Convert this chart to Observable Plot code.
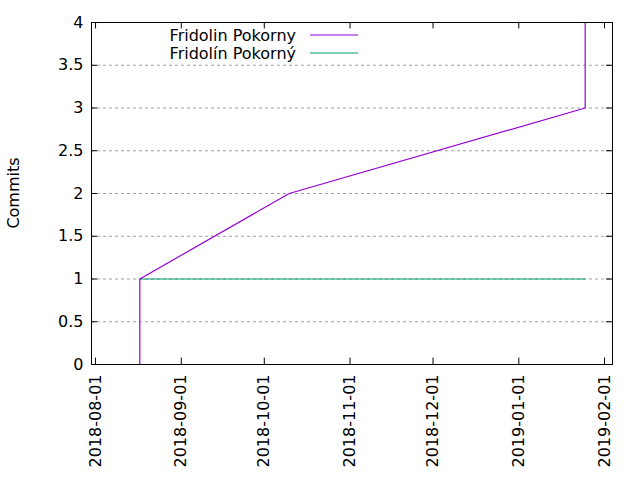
<!DOCTYPE html>
<html><head>
<meta charset="utf-8">
<script src="https://cdn.jsdelivr.net/npm/d3@7"></script>
<script src="https://cdn.jsdelivr.net/npm/@observablehq/plot@0.6"></script>
<style>body{margin:0;background:#fff}</style>
</head><body><div id="c"></div>
<script>
const seriesNames = ["Fridolin Pokorny", "Fridolín Pokorný"];
const colors = ["#9400d3", "#009e73"];
const s1Dates = ["2018-08-17","2018-08-17","2018-10-10","2019-01-25","2019-01-25"];
const s1Values = [0, 1, 2, 3, 4];
const s2Dates = ["2018-08-17","2019-01-25"];
const s2Values = [1, 1];
const xTicks = ["2018-08-01","2018-09-01","2018-10-01","2018-11-01","2018-12-01","2019-01-01","2019-02-01"];
const yTicks = [0,0.5,1,1.5,2,2.5,3,3.5,4];

const P = d => new Date(d + "T00:00:00Z");
const s1 = s1Dates.map((d,i)=>({x:P(d), y:s1Values[i]}));
const s2 = s2Dates.map((d,i)=>({x:P(d), y:s2Values[i]}));
const xt = xTicks.map(P);
const x0 = new Date(Date.UTC(2018,6,30,13)), x1 = new Date(Date.UTC(2019,1,3,21));
const tickDays = 2.2*86400000;
const font = "DejaVu Sans, sans-serif";

const chart = Plot.plot({
  width: 640, height: 480,
  marginLeft: 91, marginRight: 28, marginTop: 22, marginBottom: 116,
  style: {fontFamily: font, fontSize: "16px", color: "#000", background: "#fff"},
  x: {type: "utc", domain: [x0, x1]},
  y: {domain: [0, 4]},
  marks: [
    Plot.ruleY(yTicks.filter(v=>v>0&&v<4), {stroke:"#a0a0a0", strokeDasharray:"3,3", strokeWidth:1}),
    Plot.axisX(xt, {tickSize:0, tickRotate:-90, tickPadding:10, tickFormat: d3.utcFormat("%Y-%m-%d"), label:null, fontSize:16}),
    Plot.axisY(yTicks, {tickSize:0, tickPadding:8, label:null, fontSize:16, tickFormat: d=>String(d)}),
    Plot.ruleX(xt, {x:d=>d, y1:0, y2:0.075, stroke:"#000"}),
    Plot.ruleX(xt, {x:d=>d, y1:3.925, y2:4, stroke:"#000"}),
    Plot.ruleY(yTicks, {y:d=>d, x1:x0, x2:new Date(+x0+tickDays), stroke:"#000"}),
    Plot.ruleY(yTicks, {y:d=>d, x1:new Date(+x1-tickDays), x2:x1, stroke:"#000"}),
    Plot.line(s2, {x:"x", y:"y", stroke:colors[1], strokeWidth:1.2}),
    Plot.line(s1, {x:"x", y:"y", stroke:colors[0], strokeWidth:1.2}),
    Plot.frame({stroke:"#000"})
  ]
});
const svg = d3.select(chart);
svg.append("text").attr("transform","translate(19,193) rotate(-90)").attr("text-anchor","middle")
  .attr("font-family",font).attr("font-size",16).text("Commits");
seriesNames.forEach((n,i)=>{
  const y = 35 + i*18;
  svg.append("text").attr("x",296).attr("y",y).attr("dy","0.35em").attr("text-anchor","end")
    .attr("font-family",font).attr("font-size",16).text(n);
  svg.append("line").attr("x1",310).attr("x2",358).attr("y1",y).attr("y2",y).attr("stroke",colors[i]).attr("stroke-width",1.2);
});
document.getElementById("c").appendChild(chart);
</script></body></html>
